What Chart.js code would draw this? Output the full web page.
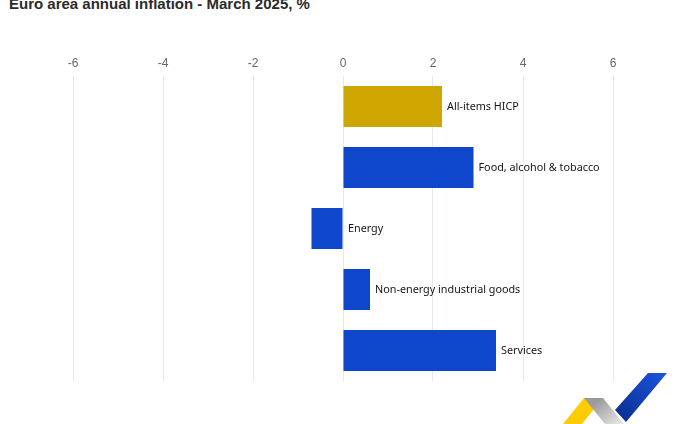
<!DOCTYPE html>
<html>
<head>
<meta charset="utf-8">
<script src="https://cdn.jsdelivr.net/npm/chart.js@4"></script>
<style>
  html, body { margin: 0; padding: 0; background: #fff; overflow: hidden; }
  #wrap { position: relative; width: 679px; height: 424px; }
  #title { position: absolute; left: 9px; top: -5px; font: bold 15px "Liberation Sans", Arial, sans-serif; color: #2b2b2b; white-space: nowrap; }
  canvas { position: absolute; left: 0; top: 0; }
</style>
</head>
<body>
<div id="wrap">
  <div id="title">Euro area annual inflation - March 2025, %</div>
  <canvas id="chartBar" width="679" height="424"></canvas>
</div>
<script>
const categories = ['All-items HICP', 'Food, alcohol & tobacco', 'Energy', 'Non-energy industrial goods', 'Services']
const values = [2.2, 2.9, -0.7, 0.6, 3.4]
const tickValues = [-6, -4, -2, 0, 2, 4, 6]

const gold = '#cfa500'
const blue = '#0e47cc'

const barLabels = {
  id: 'barLabels',
  afterDatasetsDraw (chart) {
    const ctx = chart.ctx
    const xScale = chart.scales.x
    const zero = xScale.getPixelForValue(0)
    ctx.save()
    ctx.font = '10.8px "Noto Sans", sans-serif'
    ctx.fillStyle = '#151515'
    ctx.textBaseline = 'middle'
    chart.getDatasetMeta(0).data.forEach((bar, i) => {
      const x = values[i] >= 0 ? bar.x + 5 : zero + 5
      ctx.fillText(categories[i], x, bar.y)
    })
    ctx.restore()
  }
}

// decorative logo in the bottom right corner
const logo = {
  id: 'logo',
  afterDraw (chart) {
    const ctx = chart.ctx
    ctx.save()
    ctx.fillStyle = '#ffcc00'
    ctx.beginPath()
    ctx.moveTo(563, 424); ctx.lineTo(584, 398); ctx.lineTo(603, 398); ctx.lineTo(582, 424)
    ctx.fill()
    const g = ctx.createLinearGradient(600, 398, 620, 424)
    g.addColorStop(0, '#9a9a9a')
    g.addColorStop(1, '#e6e6e6')
    ctx.fillStyle = g
    ctx.beginPath()
    ctx.moveTo(584, 398); ctx.lineTo(603, 398); ctx.lineTo(624, 424); ctx.lineTo(605, 424)
    ctx.fill()
    const b = ctx.createLinearGradient(667, 373, 620, 422)
    b.addColorStop(0, '#1c55e0')
    b.addColorStop(1, '#0a2f8f')
    ctx.fillStyle = b
    ctx.beginPath()
    ctx.moveTo(648, 373); ctx.lineTo(667, 373); ctx.lineTo(626, 422); ctx.lineTo(615, 410)
    ctx.fill()
    ctx.restore()
  }
}

const config = {
  type: 'bar',
  data: {
    labels: categories,
    datasets: [{
      data: values,
      backgroundColor: values.map((v, i) => i === 0 ? gold : blue),
      borderWidth: 0,
      barPercentage: 0.67,
      categoryPercentage: 1
    }]
  },
  options: {
    indexAxis: 'y',
    responsive: false,
    animation: false,
    layout: { padding: { top: 51.6, bottom: 43, left: 10, right: 3 } },
    plugins: {
      legend: { display: false },
      tooltip: { enabled: false }
    },
    scales: {
      x: {
        position: 'top',
        min: -7.4,
        max: 7.4,
        afterBuildTicks: axis => { axis.ticks = tickValues.map(v => ({ value: v })) },
        grid: { color: '#e4e8f1', drawTicks: false },
        border: { display: false },
        ticks: {
          padding: 5,
          color: '#666',
          font: { family: '"Liberation Sans", Arial, sans-serif', size: 12 }
        }
      },
      y: {
        display: false
      }
    }
  },
  plugins: [barLabels, logo]
}

const canvas = document.getElementById('chartBar').getContext('2d')
window.barChart = new Chart(canvas, config)
</script>
</body>
</html>
